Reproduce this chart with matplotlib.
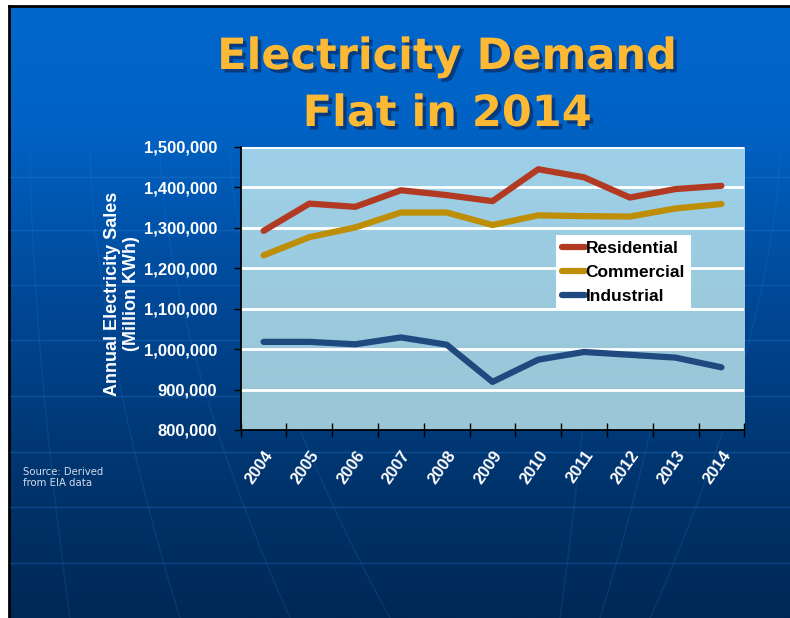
from matplotlib import pyplot as plt
from matplotlib import patheffects as pe
import numpy as np

years = ['2004', '2005', '2006', '2007', '2008', '2009', '2010', '2011', '2012', '2013', '2014']
residential = [1292600, 1360000, 1352000, 1393000, 1381000, 1366000, 1445000, 1425000, 1375000, 1396000, 1404000]
commercial = [1232000, 1277000, 1301000, 1338000, 1338000, 1307000, 1331000, 1329000, 1328000, 1348000, 1359000]
industrial = [1018000, 1018000, 1012000, 1029000, 1011000, 919000, 974000, 993000, 986000, 979000, 955000]
yticks = np.arange(800000, 1500001, 100000)

W, H = 790, 618
fig = plt.figure(figsize=(W / 100, H / 100), dpi=100)
fig.patch.set_facecolor('white')

# slide background (pixel coordinates)
bg = fig.add_axes([0, 0, 1, 1])
bg.set_xlim(0, W)
bg.set_ylim(H, 0)
bg.axis('off')
stops_y = [7, 130, 300, 450, 618]
stops_c = np.array([[0, 102, 204], [0, 98, 196], [0, 72, 150], [0, 55, 115], [0, 40, 85]]) / 255
yy = np.arange(7, H + 1)
grad = np.stack([np.interp(yy, stops_y, stops_c[:, i]) for i in range(3)], axis=-1)
bg.imshow(grad[:, None, :], extent=[10, W, H, 7], aspect='auto', zorder=0)
bg.plot([9, 9], [6, H], color='black', lw=2, zorder=1)
bg.plot([9, W], [6, 6], color='black', lw=2, zorder=1)
# faint globe lines
for y in [177, 230, 285, 340, 396, 452, 507, 563]:
    bg.plot([10, W], [y, y], color='#2a7fd4', lw=1, alpha=0.3, zorder=1)
t = np.linspace(0, 1, 100)
for x0, k in [(30, 40), (90, 90), (160, 130), (230, 160), (600, -40), (690, -90), (780, -130)]:
    ys = 150 + t * (H - 150)
    xs = x0 + k * t ** 1.6
    bg.plot(xs, ys, color='#2a7fd4', lw=1, alpha=0.18, zorder=1)

# title
title_fx = [pe.withSimplePatchShadow(offset=(2.5, -2.5), shadow_rgbFace='#0a2050', alpha=0.6)]
fig.text(447 / W, 1 - 57 / H, 'Electricity Demand', color='#FDB933', fontsize=31,
         fontweight='bold', family='DejaVu Sans', ha='center', va='center', path_effects=title_fx)
fig.text(447 / W, 1 - 114 / H, 'Flat in 2014', color='#FDB933', fontsize=31,
         fontweight='bold', family='DejaVu Sans', ha='center', va='center', path_effects=title_fx)

# chart
ax = fig.add_axes([240.7 / W, 1 - 430 / H, 503.6 / W, 283 / H])
ax.set_facecolor('none')
pgrad = np.linspace(0, 1, 100)[:, None]
ptop = np.array([157, 208, 232]) / 255
pbot = np.array([154, 198, 214]) / 255
pimg = ptop + (pbot - ptop) * pgrad[:, :, None]
ax.imshow(pimg, extent=[0, 1, 0, 1], transform=ax.transAxes, aspect='auto', zorder=0)

x = np.arange(len(years))
ax.plot(x, residential, color='#B33A22', lw=4.5, solid_capstyle='round', label='Residential', zorder=3)
ax.plot(x, commercial, color='#BE8E06', lw=4.5, solid_capstyle='round', label='Commercial', zorder=3)
ax.plot(x, industrial, color='#1F4A80', lw=4.5, solid_capstyle='round', label='Industrial', zorder=3)

ax.set_xlim(-0.5, len(years) - 0.5)
ax.set_ylim(800000, 1500000)
ax.set_yticks(yticks)
ax.set_yticklabels(['{:,}'.format(v) for v in yticks])
for v in yticks[1:]:
    ax.axhline(v, color='white', lw=2, zorder=1)

ax.set_xticks(x)
ax.set_xticklabels(years, rotation=55, ha='right', va='top', rotation_mode='anchor')
ax.set_xticks(np.arange(-0.5, len(years)), minor=True)
ax.tick_params(axis='x', which='major', length=0, pad=13)
ax.tick_params(axis='x', which='minor', direction='inout', length=10, color='black', width=1)
ax.tick_params(axis='y', direction='out', length=5, color='black', width=1, pad=12)
for lab in ax.get_xticklabels() + ax.get_yticklabels():
    lab.set_color('white')
    lab.set_fontweight('bold')
    lab.set_fontsize(12)
    lab.set_family('Liberation Sans')
for s in ['top', 'right']:
    ax.spines[s].set_visible(False)
for s in ['left', 'bottom']:
    ax.spines[s].set_color('black')
    ax.spines[s].set_linewidth(1.3)
    ax.spines[s].set_zorder(4)

leg = ax.legend(loc='upper left', bbox_to_anchor=(0.626, 0.689), borderaxespad=0,
                frameon=True, fancybox=False, framealpha=1, facecolor='white', edgecolor='none',
                handlelength=1.3, handletextpad=0.05, borderpad=0.35, labelspacing=0.5,
                prop={'family': 'Liberation Sans', 'weight': 'bold', 'size': 12.5})
leg.set_zorder(5)

fig.text(122 / W, 1 - 294 / H, 'Annual Electricity Sales\n(Million KWh)', rotation=90,
         color='white', fontsize=13, fontweight='bold', family='Liberation Sans',
         ha='center', va='center', linespacing=1.2)

fig.text(23 / W, 1 - 467 / H, 'Source: Derived\nfrom EIA data', color='#d0dcec',
         fontsize=7.3, family='DejaVu Sans', ha='left', va='top', linespacing=1.1)

fig.savefig('out.png', dpi=100, facecolor=fig.get_facecolor())
